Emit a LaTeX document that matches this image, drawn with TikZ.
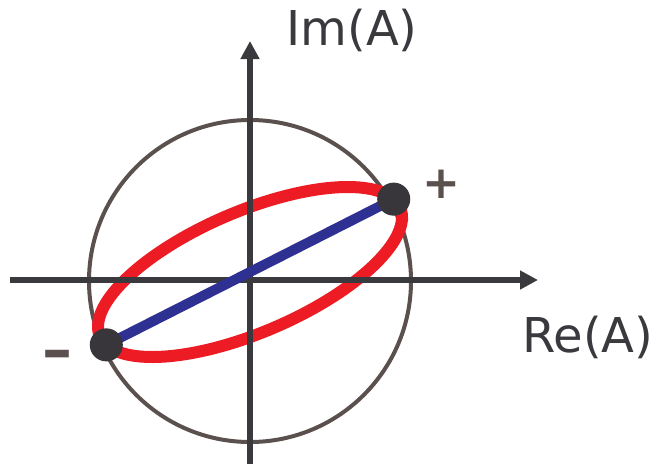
\documentclass[tikz,border=0pt]{standalone}
\usepackage{fontspec}
\setmainfont{DejaVu Sans}
\usetikzlibrary{arrows.meta}
\definecolor{axiscol}{HTML}{3A393E}
\definecolor{circcol}{HTML}{5A504D}
\definecolor{ellred}{HTML}{ED1C24}
\definecolor{lineblue}{HTML}{2E3192}
\definecolor{dotcol}{HTML}{38363B}
\tikzset{
  axisline/.style={draw=axiscol, line width=4pt, -{Triangle[length=13.5pt,width=13.5pt]}},
  unitcircle/.style={draw=circcol, line width=3pt},
  polell/.style={draw=ellred, line width=9pt},
  linpol/.style={draw=lineblue, line width=7.5pt},
  dotnode/.style={circle, fill=dotcol, minimum size=24.8pt, inner sep=0pt},
  axlabel/.style={text=axiscol, font=\fontsize{36}{40}\selectfont, inner sep=0pt},
  signlabel/.style={text=circcol, inner sep=0pt}
}
\begin{document}
\begin{tikzpicture}[x=0.75pt, y=-0.75pt]
\useasboundingbox (0,0) rectangle (655,464);
% coordinates
\coordinate (xs) at (10,280);
\coordinate (xe) at (538,280);
\coordinate (ys) at (250,464);
\coordinate (ye) at (250,41);
\coordinate (o) at (250,281);
% unit circle
\draw[unitcircle] (o) circle[radius=120.75pt];
% polarization ellipse
\draw[polell] plot[domain=0:360, samples=120, smooth cycle] ({250+152*cos(\x)}, {272-85*cos(\x-50)});
% axes
\draw[axisline] (xs) -- (xe);
\draw[axisline] (ys) -- (ye);
% linear polarization
\node[dotnode, opacity=0] (p) at ({250+152*cos(19)}, {272-85*cos(19-50)}) {};
\node[dotnode, opacity=0] (m) at ({250+152*cos(199)}, {272-85*cos(199-50)}) {};
\draw[linpol] (m.center) -- (p.center);
\node[dotnode] (pd) at (p) {};
\node[dotnode] (md) at (m) {};
% labels
\node[axlabel] (im) at (352,30) {Im(A)};
\node[axlabel] (re) at (588,337) {Re(A)};
\node[signlabel, font=\fontsize{34}{38}\selectfont\bfseries] (plus) at (441,184) {+};
\node[signlabel, font=\fontsize{45}{48}\selectfont\bfseries] (minus) at (57,360) {–};
\end{tikzpicture}
\end{document}
